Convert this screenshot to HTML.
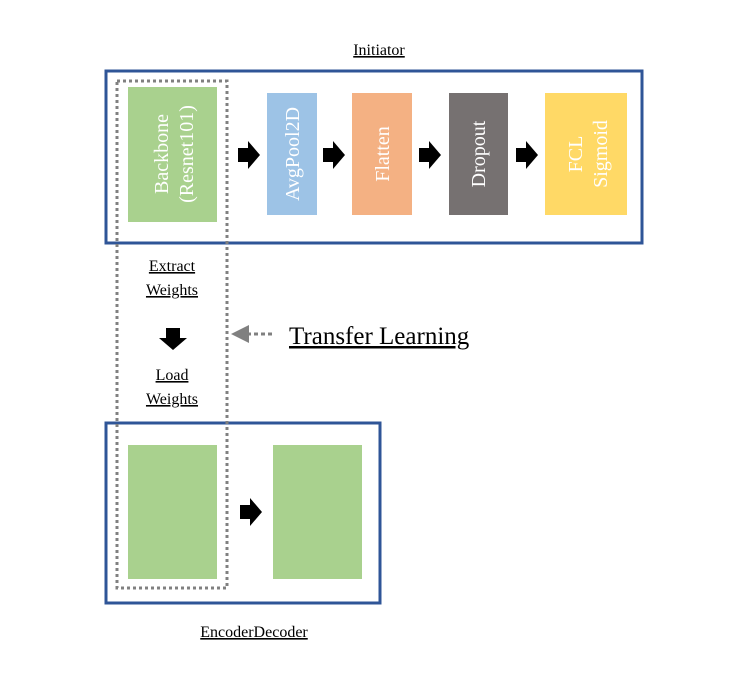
<!DOCTYPE html>
<html><head><style>
body{margin:0;background:#fff}
svg text{font-family:"Liberation Serif",serif}
</style></head><body>
<svg width="751" height="687" viewBox="0 0 751 687" xmlns="http://www.w3.org/2000/svg">
<defs>
<marker id="ga" markerWidth="6" markerHeight="6" refX="5" refY="3" orient="auto"><path d="M0,0 L6,3 L0,6z" fill="#808080"/></marker>
</defs>
<text x="379" y="55" font-size="16" text-anchor="middle" text-decoration="underline">Initiator</text>
<rect x="106" y="71" width="536" height="172" fill="none" stroke="#2F5597" stroke-width="3"/>
<rect x="128" y="87" width="89" height="135" fill="#A9D18E"/>
<rect x="267" y="93" width="50" height="122" fill="#9DC3E6"/>
<rect x="352" y="93" width="60" height="122" fill="#F4B183"/>
<rect x="449" y="93" width="59" height="122" fill="#767171"/>
<rect x="545" y="93" width="82" height="122" fill="#FFD966"/>
<g fill="#000">
<path d="M238,148h10v-7l12,14l-12,14v-7h-10z"/>
<path d="M323,148h10v-7l12,14l-12,14v-7h-10z"/>
<path d="M419,148h10v-7l12,14l-12,14v-7h-10z"/>
<path d="M516,148h10v-7l12,14l-12,14v-7h-10z"/>
<path d="M240,505h10v-7l12,14l-12,14v-7h-10z"/>
<path d="M166,328h14v10h7l-14,12l-14,-12h7z"/>
</g>
<g fill="#fff" font-size="20" text-anchor="middle">
<text transform="translate(172,154) rotate(-90)"><tspan x="0" y="-4">Backbone</tspan><tspan x="0" y="21">(Resnet101)</tspan></text>
<text transform="translate(299,154) rotate(-90)">AvgPool2D</text>
<text transform="translate(389,154) rotate(-90)">Flatten</text>
<text transform="translate(485,154) rotate(-90)">Dropout</text>
<text transform="translate(586,154) rotate(-90)"><tspan x="0" y="-4">FCL</tspan><tspan x="0" y="21">Sigmoid</tspan></text>
<text transform="translate(172,512) rotate(-90)"><tspan x="0" y="-4">Encoder</tspan><tspan x="0" y="21">(Resnet101)</tspan></text>
<text transform="translate(317,512) rotate(-90)"><tspan x="0" y="-16">Decoder</tspan><tspan x="0" y="7">With</tspan><tspan x="0" y="30">Attention</tspan></text>
</g>
<g font-size="16" text-anchor="middle" text-decoration="underline">
<text x="172" y="271">Extract</text><text x="172" y="295">Weights</text>
<text x="172" y="380">Load</text><text x="172" y="404">Weights</text>
<text x="254" y="637">EncoderDecoder</text>
</g>
<text x="289" y="344" font-size="25" text-decoration="underline">Transfer Learning</text>
<line x1="272" y1="334" x2="234" y2="334" stroke="#808080" stroke-width="3" stroke-dasharray="4,3" marker-end="url(#ga)"/>
<rect x="106" y="423" width="274" height="180" fill="none" stroke="#2F5597" stroke-width="3"/>
<rect x="128" y="445" width="89" height="134" fill="#A9D18E"/>
<rect x="273" y="445" width="89" height="134" fill="#A9D18E"/>
<rect x="117" y="81" width="110" height="507" fill="none" stroke="#808080" stroke-width="3" stroke-dasharray="3,3"/>
</svg>
</body></html>
